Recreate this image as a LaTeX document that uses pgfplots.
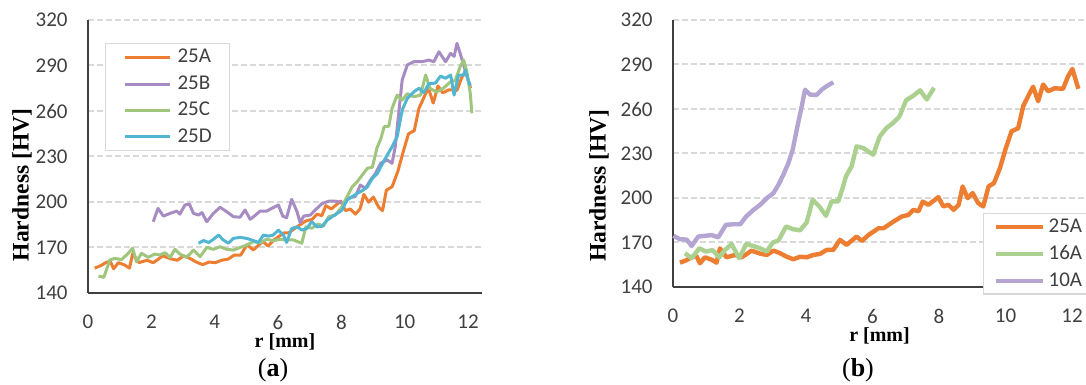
\documentclass[border=0pt]{standalone}
\usepackage{pgfplots}
\pgfplotsset{compat=1.18}
\usepackage{fontspec}
\setmainfont{Carlito}
\newfontfamily\tnr{Liberation Serif}

\definecolor{cA}{HTML}{ED7D31}
\definecolor{cB}{HTML}{A68CC2}
\definecolor{cC}{HTML}{A0C67E}
\definecolor{cD}{HTML}{52B6D3}
\definecolor{cB2}{HTML}{B5A5D2}
\definecolor{cC2}{HTML}{AAD18F}
\definecolor{gridc}{HTML}{D9D9D9}
\definecolor{axc}{HTML}{404040}
\definecolor{txt}{HTML}{404040}

\tikzset{
  xlab/.style={anchor=north, inner sep=0pt, font=\tnr\bfseries\fontsize{10}{12}\selectfont},
  ylab/.style={anchor=center, rotate=90, inner sep=0pt, font=\tnr\bfseries\fontsize{11.8}{13}\selectfont},
}
\pgfplotsset{
  hv/.style={
    scale only axis, clip=false,
    ymin=140, ymax=320, ytick={140,170,...,320},
    xmin=0, xtick={0,2,...,12},
    axis x line*=bottom, axis y line*=left,
    axis line style={axc, line width=0.8pt, -},
    major tick length=0pt,
    ymajorgrids,
    grid style={gridc, line width=1pt, dash pattern=on 3pt off 1.5pt},
    /pgf/number format/assume math mode=true,
    tick label style={font=\fontsize{10.5}{12}\selectfont, text=txt, inner sep=0pt},
    yticklabel style={xshift=-10pt},
    xticklabel style={yshift=-10.8pt},
    legend cell align=left,
    legend image code/.code={\draw[#1] (0pt,0pt) -- (22.5pt,0pt);},
  },
}

\begin{document}
\begin{tikzpicture}
\useasboundingbox (0,0) rectangle (543pt,192.5pt);
\clip (0,0) rectangle (543pt,192.5pt);

% ---------------- panel (a) ----------------
\begin{axis}[hv,
  at={(44pt,46pt)}, anchor=south west,
  width=197pt, height=136.5pt, xmax=12.44,
  legend style={at={(axis description cs:0.0431,0.9158)}, anchor=north west,
    draw=gridc, line width=0.6pt, fill=white,
    font=\fontsize{10.5}{12}\selectfont, text=txt,
    inner xsep=9pt, inner ysep=2.85pt, row sep=4.9pt,
    nodes={inner sep=0pt},
    /tikz/every odd column/.append style={column sep=3pt}},
  every axis plot/.append style={line width=1.5pt, line join=round},
]
\addplot[cA] coordinates {
(0.21,156.4)(0.4,158)(0.56,160)(0.7,161)(0.81,156)(0.96,160)(1.15,158.5)(1.31,156.4)(1.41,166)(1.61,160)(1.86,161.6)(2.06,160)(2.2,162)(2.36,164.5)(2.62,162.5)(2.82,161.6)(3.02,164.5)(3.2,163)(3.42,160.4)(3.62,158.7)(3.82,160.4)(4.02,160)(4.22,161.6)(4.42,162.3)(4.62,165)(4.82,165)(5.02,171.8)(5.22,168.4)(5.52,174)(5.68,171)(5.88,175.1)(6.18,179.6)(6.33,179.6)(6.63,184.1)(6.88,187.5)(7.08,188.6)(7.23,192)(7.38,191)(7.51,197.6)(7.68,195.4)(7.98,200.6)(8.13,194.3)(8.28,195.4)(8.44,192)(8.59,195.4)(8.71,205)(8.86,199.9)(9.01,203.3)(9.18,196.5)(9.3,194.3)(9.42,207.8)(9.6,210)(9.78,220)(9.95,233)(10.12,245)(10.3,247)(10.45,261.8)(10.65,270.9)(10.75,275)(10.9,265.2)(11.05,276.5)(11.2,272)(11.4,274)(11.65,273.6)(11.8,282)(11.92,286)(12.08,275)
};
\addlegendentry{25A}
\addplot[cB] coordinates {
(2.06,187)(2.21,195.8)(2.38,190.7)(2.59,192.5)(2.8,194)(2.9,192)(3.06,198)(3.2,198.7)(3.33,192.5)(3.49,191.4)(3.6,193)(3.75,187)(3.96,192.5)(4.17,196.5)(4.38,193.6)(4.59,190.3)(4.8,190)(4.96,194.7)(5.12,188.6)(5.27,191)(5.43,194)(5.64,194)(5.8,195.8)(6.01,198)(6.15,190.7)(6.27,189.6)(6.43,201.8)(6.6,193.6)(6.7,186.3)(6.81,190.7)(7.02,191.4)(7.23,195.8)(7.39,199)(7.6,200.5)(7.81,200.5)(8.07,199.5)(8.23,202.6)(8.44,203.6)(8.6,211.2)(8.76,209)(8.92,214.5)(9.08,218.9)(9.24,225.5)(9.45,227.7)(9.6,225.5)(9.7,236.4)(9.81,258.4)(9.92,280.4)(10.08,290.3)(10.29,292.5)(10.55,292.5)(10.76,293.6)(10.92,292.5)(11.08,299)(11.29,292.5)(11.45,298)(11.56,296)(11.65,304.6)(11.75,298)(11.88,289)(11.96,283.5)
};
\addlegendentry{25B}
\addplot[cC] coordinates {
(0.33,151.2)(0.5,150.3)(0.69,161.8)(0.85,162.8)(1.06,162)(1.27,166.2)(1.41,169.5)(1.53,160.6)(1.69,166.2)(1.9,163.5)(2.11,165.7)(2.27,165)(2.43,166.6)(2.59,163.5)(2.75,168.8)(2.9,165.7)(3.11,163.5)(3.33,168.3)(3.54,164)(3.75,170)(3.96,168.8)(4.17,170.5)(4.38,168.8)(4.59,168.3)(4.8,170)(5.01,171.6)(5.22,173.8)(5.43,173)(5.64,175.4)(5.85,174.5)(6.06,175.4)(6.27,175)(6.48,175)(6.75,172.8)(6.88,183.7)(7.06,182.7)(7.27,185.5)(7.43,184)(7.6,190.3)(7.81,191.4)(8.02,196.9)(8.18,203.5)(8.34,210)(8.5,213.4)(8.66,217.8)(8.82,222.2)(8.98,223)(9.12,235.4)(9.25,242)(9.35,249.6)(9.5,250)(9.6,261.7)(9.76,270.5)(9.92,267.2)(10.08,271.4)(10.29,269.4)(10.5,270.5)(10.66,283.7)(10.8,274.9)(11.01,272.5)(11.22,275)(11.43,279)(11.59,280)(11.75,289.2)(11.86,293.6)(11.96,286)(12.07,271.6)(12.12,258.5)
};
\addlegendentry{25C}
\addplot[cD] coordinates {
(3.49,172.8)(3.65,174.6)(3.81,173.3)(3.96,175.4)(4.12,178.2)(4.27,175)(4.43,172.8)(4.59,176)(4.8,176.7)(5.01,176)(5.22,174.6)(5.38,173.3)(5.54,178.2)(5.7,177.5)(5.85,178.2)(6.01,181.5)(6.17,178.2)(6.27,173.3)(6.43,182.5)(6.6,183.6)(6.75,181.5)(6.91,182.5)(7.06,187)(7.23,183.6)(7.39,184)(7.55,188)(7.71,190.3)(7.87,192.5)(8.02,194.7)(8.18,201.3)(8.34,203.5)(8.5,205.7)(8.66,207.5)(8.82,210)(8.98,215.6)(9.14,218.9)(9.3,225.5)(9.45,231)(9.6,236.4)(9.76,243)(9.92,260.6)(10.08,268.3)(10.29,272.7)(10.45,275)(10.6,272)(10.76,278)(10.97,278.4)(11.13,283)(11.29,281.6)(11.45,283.7)(11.56,270.5)(11.7,283.7)(11.86,283.7)(11.91,287)(12.01,280)(12.07,276.7)
};
\addlegendentry{25D}
\node[xlab] at (axis description cs:0.5,-0.148) {r [mm]};
\node[ylab] at (axis description cs:-0.1675,0.396) {Hardness [HV]};
\end{axis}

% ---------------- panel (b) ----------------
\begin{axis}[hv,
  at={(336.5pt,49pt)}, anchor=south west,
  width=206.5pt, height=133.5pt, xmax=12.42,
  legend image code/.code={\draw[#1] (0pt,0pt) -- (23.5pt,0pt);},
  legend style={at={(axis description cs:0.7506,0.277)}, anchor=north west,
    draw=gridc, line width=0.6pt, fill=white,
    font=\fontsize{10.5}{12}\selectfont, text=txt,
    inner xsep=5pt, inner ysep=2.4pt, row sep=5.1pt,
    nodes={inner sep=0pt},
    /tikz/every odd column/.append style={column sep=1.8pt}},
  every axis plot/.append style={line width=2.2pt, line join=round},
]
\addplot[cA] coordinates {
(0.21,156.4)(0.4,158)(0.56,160)(0.7,161)(0.81,156)(0.96,160)(1.15,158.5)(1.31,156.4)(1.41,166)(1.61,160)(1.86,161.6)(2.06,160)(2.2,162)(2.36,164.5)(2.62,162.5)(2.82,161.6)(3.02,164.5)(3.2,163)(3.42,160.4)(3.62,158.7)(3.82,160.4)(4.02,160)(4.22,161.6)(4.42,162.3)(4.62,165)(4.82,165)(5.02,171.8)(5.22,168.4)(5.52,174)(5.68,171)(5.88,175.1)(6.18,179.6)(6.33,179.6)(6.63,184.1)(6.88,187.5)(7.08,188.6)(7.23,192)(7.38,191)(7.51,197.6)(7.68,195.4)(7.98,200.6)(8.13,194.3)(8.28,195.4)(8.44,192)(8.59,195.4)(8.71,207.8)(8.86,199.9)(9.01,203.3)(9.18,196.5)(9.33,194.3)(9.49,207.8)(9.65,210)(9.83,220)(10.0,233)(10.18,245)(10.38,247)(10.53,261.8)(10.73,270.9)(10.83,275)(10.98,265.2)(11.13,276.5)(11.28,272)(11.48,274)(11.73,273.6)(11.88,282)(12.01,287)(12.19,273.6)
};
\addlegendentry{25A}
\addplot[cC2] coordinates {
(0.36,162.8)(0.56,159.4)(0.79,166.1)(0.99,163.9)(1.19,164.9)(1.39,160)(1.56,164.9)(1.76,169)(1.99,159.4)(2.2,169)(2.42,167.6)(2.62,166.1)(2.82,163.9)(3.0,170)(3.17,171.3)(3.4,180.8)(3.6,179)(3.82,178.2)(4.02,183.5)(4.2,198.8)(4.4,194.3)(4.6,188)(4.77,197.7)(4.97,197.7)(5.1,206.7)(5.2,214.5)(5.37,221.3)(5.52,234.8)(5.72,233.7)(6.02,229.2)(6.22,241.6)(6.42,247.2)(6.62,250.6)(6.81,255)(7.01,265.9)(7.23,269)(7.43,272.6)(7.63,266.4)(7.85,274.3)
};
\addlegendentry{16A}
\addplot[cB2] coordinates {
(0.01,174.5)(0.21,172.2)(0.41,172)(0.56,167.7)(0.76,174)(0.96,174.5)(1.16,175)(1.36,173.5)(1.59,181.9)(1.81,182.3)(2.02,182.3)(2.2,187.5)(2.42,192)(2.62,195.4)(2.82,199.9)(3.02,203.3)(3.17,208.9)(3.32,215.7)(3.47,223.6)(3.6,232.6)(3.72,246)(3.85,259.6)(3.97,273)(4.12,269.7)(4.32,269.5)(4.47,273)(4.62,275.4)(4.82,278)
};
\addlegendentry{10A}
\node[xlab] at (axis description cs:0.5,-0.15) {r [mm]};
\node[ylab] at (axis description cs:-0.179,0.38) {Hardness [HV]};
\end{axis}

\node[font=\tnr\fontsize{13}{15}\selectfont, text=black] at (136.5pt,7.5pt) {(\textbf{a})};
\node[font=\tnr\fontsize{13}{15}\selectfont, text=black] at (429pt,7.5pt) {(\textbf{b})};
\end{tikzpicture}
\end{document}
